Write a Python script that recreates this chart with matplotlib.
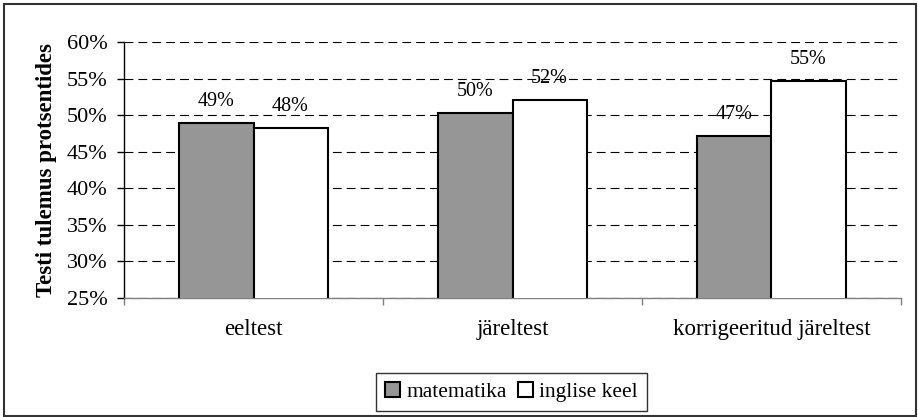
import matplotlib
matplotlib.use("Agg")
import matplotlib.pyplot as plt
from matplotlib.patches import Rectangle
import numpy as np

categories = ["eeltest", "järeltest", "korrigeeritud järeltest"]
series_names = ["matematika", "inglise keel"]
matematika = [48.9, 50.3, 47.2]
inglise = [48.2, 52.1, 54.7]
labels_mat = ["49%", "50%", "47%"]
labels_ing = ["48%", "52%", "55%"]
yticks = [25, 30, 35, 40, 45, 50, 55, 60]

plt.rcParams["font.family"] = ["Liberation Serif", "DejaVu Serif"]

fig = plt.figure(figsize=(9.18, 4.17), dpi=100)
ax = fig.add_axes([124/918, 1-298/417, (901-124)/918, (298-42)/417])

x = np.arange(len(categories))
w = 0.286
b1 = ax.bar(x - w/2, matematika, w, bottom=0, color="#969696", edgecolor="black", linewidth=1.5, label=series_names[0], zorder=3)
b2 = ax.bar(x + w/2, inglise, w, bottom=0, color="white", edgecolor="black", linewidth=1.5, label=series_names[1], zorder=3)

for xi, v, t in zip(x - w/2, matematika, labels_mat):
    ax.annotate(t, (xi, v), xytext=(0, 12), textcoords="offset pixels", ha="center", va="bottom", fontsize=14.5, zorder=2)
for xi, v, t in zip(x + w/2, inglise, labels_ing):
    ax.annotate(t, (xi, v), xytext=(0, 12), textcoords="offset pixels", ha="center", va="bottom", fontsize=14.5, zorder=2)

ax.set_xlim(-0.5, 2.5)
ax.set_ylim(25, 60)
ax.set_yticks(yticks)
ax.set_yticklabels([f"{v}%" for v in yticks], fontsize=16)
ax.yaxis.grid(True, color="black", linestyle=(0, (8, 4.5)), linewidth=0.8)
ax.set_axisbelow(True)

ax.set_xticks([-0.5, 0.5, 1.5, 2.5])
ax.set_xticklabels([])
ax.set_xticks(x, minor=True)
ax.set_xticklabels(categories, minor=True, fontsize=16.5)
ax.tick_params(axis="x", which="major", direction="out", length=5, color="#808080", width=1)
ax.tick_params(axis="x", which="minor", length=0, pad=15)
ax.tick_params(axis="y", direction="out", length=5, width=1, pad=7)

for s in ["top", "right"]:
    ax.spines[s].set_visible(False)
ax.spines["bottom"].set_color("#808080")
ax.spines["bottom"].set_linewidth(1)
ax.spines["left"].set_linewidth(1)

ax.set_ylabel("Testi tulemus protsentides", fontsize=16.5, fontweight="bold", labelpad=7)

leg = fig.legend(handles=[b1, b2], labels=series_names, loc="center", bbox_to_anchor=(511.5/918, 1-392/417),
                 ncol=2, fontsize=15.5, frameon=True, fancybox=False, edgecolor="black",
                 handlelength=0.7, handleheight=0.7, handletextpad=0.3, columnspacing=0.5,
                 borderpad=0.4, borderaxespad=0)
leg.get_frame().set_linewidth(1)

fig.patches.append(Rectangle((4/918, 1/417), 912/918, 412/417, transform=fig.transFigure,
                             fill=False, edgecolor="#333333", linewidth=1.5))

fig.savefig("out.png", dpi=100)
